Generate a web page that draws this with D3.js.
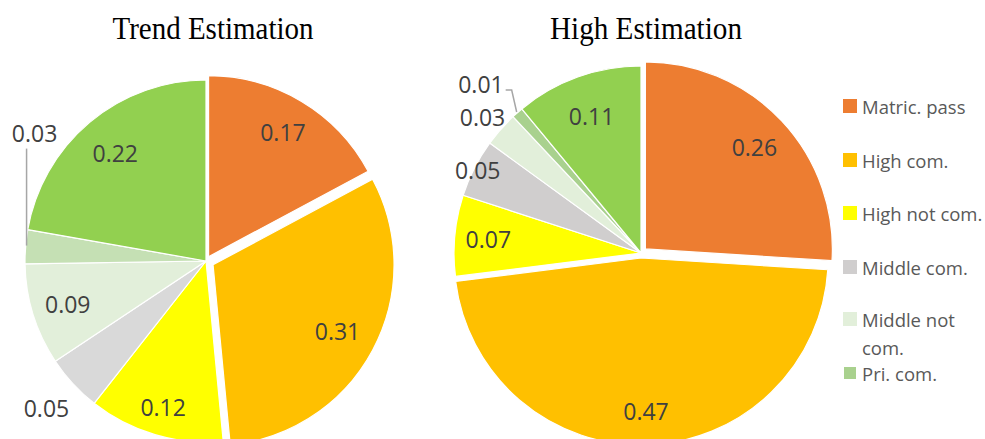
<!DOCTYPE html>
<html>
<head>
<meta charset="utf-8">
<script src="https://cdn.jsdelivr.net/npm/d3@7"></script>
<style>
  html, body { margin: 0; padding: 0; background: #fff; }
  svg { display: block; }
</style>
</head>
<body>
<svg id="chart" width="985" height="439"></svg>
<script>
// Education attainment shares, two estimation scenarios
const categories = ["Matric. pass", "High com.", "High not com.", "Middle com.", "Middle not com.", "Pri. com.", "Other"];
const trendValues = [0.17, 0.31, 0.12, 0.05, 0.09, 0.03, 0.22];
const highValues  = [0.26, 0.47, 0.07, 0.05, 0.03, 0.01, 0.11];
const legendLabels = [["Matric. pass"], ["High com."], ["High not com."], ["Middle com."], ["Middle not", "com."], ["Pri. com."]];
const chartTitles = ["Trend Estimation", "High Estimation"];

const trendColors = ["#ED7D31", "#FFC000", "#FFFF00", "#D9D9D9", "#E2EFDA", "#C5E0B4", "#92D050"];
const highColors  = ["#ED7D31", "#FFC000", "#FFFF00", "#D0CECE", "#E2EFDA", "#A9D18E", "#92D050"];
const legendColors = ["#ED7D31", "#FFC000", "#FFFF00", "#D0CECE", "#E2EFDA", "#A9D18E"];

const svg = d3.select("#chart");

// Per-pie layout: centre, radius, slice offsets and label placement
const pies = [
  {
    title: chartTitles[0], titleX: 213, titleLen: 201,
    values: trendValues, colors: trendColors,
    cx: 206, cy: 261, r: 181,
    explode: [5, 8, 0, 0, 0, 0, 0],
    labels: [
      { k: 0.80 }, { k: 0.78 }, { k: 0.84 }, { k: 1.20 }, { k: 0.80 },
      { leader: "up", dx: 10, dy: -114 }, { k: 0.78 }
    ]
  },
  {
    title: chartTitles[1], titleX: 646, titleLen: 192,
    values: highValues, colors: highColors,
    cx: 641, cy: 253, r: 187,
    explode: [6, 5, 0, 0, 0, 0, 0],
    labels: [
      { k: 0.80 }, { k: 0.82 }, { k: 0.82 }, { k: 0.98 }, { k: 1.13, ny: 4 },
      { leader: "left", dx: -13, dy: -28 }, { k: 0.78 }
    ]
  }
];

const pieGen = d3.pie().sort(null).value(d => d).startAngle(0).endAngle(2 * Math.PI);
const labelColor = "#404040";
const labelFont = "'Open Sans', sans-serif";

pies.forEach(p => {
  // title
  svg.append("text")
    .attr("x", p.titleX).attr("y", 39)
    .attr("text-anchor", "middle")
    .attr("font-family", "'Liberation Serif', 'Times New Roman', serif")
    .attr("font-size", 31)
    .attr("textLength", p.titleLen)
    .attr("lengthAdjust", "spacingAndGlyphs")
    .attr("fill", "#000")
    .text(p.title);

  const arcs = pieGen(p.values);
  const arc = d3.arc().innerRadius(0).outerRadius(p.r);
  const g = svg.append("g").attr("transform", `translate(${p.cx},${p.cy})`);

  const offset = (d, i) => {
    const mid = (d.startAngle + d.endAngle) / 2;
    const e = p.explode[i];
    return [e * Math.sin(mid), -e * Math.cos(mid)];
  };

  g.selectAll("path.slice").data(arcs).enter().append("path")
    .attr("class", "slice")
    .attr("d", arc)
    .attr("transform", (d, i) => { const o = offset(d, i); return `translate(${o[0]},${o[1]})`; })
    .attr("fill", (d, i) => p.colors[i])
    .attr("stroke", "#fff")
    .attr("stroke-width", 1.2)
    .attr("stroke-linejoin", "round");

  const addLabel = (x, y, anchor, txt) =>
    g.append("text").attr("x", x).attr("y", y)
      .attr("text-anchor", anchor).attr("dominant-baseline", "central")
      .attr("font-family", labelFont).attr("font-size", 23)
      .attr("fill", labelColor).text(txt);

  arcs.forEach((d, i) => {
    const L = p.labels[i];
    const o = offset(d, i);
    const mid = (d.startAngle + d.endAngle) / 2;
    const txt = d3.format(".2f")(p.values[i]);
    if (L.leader) {
      const ax = (p.r + 1) * Math.sin(mid) + o[0];
      const ay = -(p.r + 1) * Math.cos(mid) + o[1];
      const lx = ax + L.dx, ly = ay + L.dy;
      let pts;
      if (L.leader === "up") {
        pts = [[ax + 2, ay - 1], [ax + 2, ly + 16]];
        addLabel(lx, ly, "middle", txt);
      } else {
        pts = [[ax, ay], [ax - 5, ly + 6], [lx + 2, ly + 6]];
        addLabel(lx, ly, "end", txt);
      }
      g.append("path").attr("d", d3.line()(pts))
        .attr("fill", "none").attr("stroke", "#A6A6A6").attr("stroke-width", 1.5);
    } else {
      const lr = p.r * L.k;
      const c = d3.arc().innerRadius(lr).outerRadius(lr).centroid(d);
      addLabel(c[0] + o[0], c[1] + o[1] + (L.ny || 0), "middle", txt);
    }
  });
});

// legend
const legendRowY = [106, 160, 213, 267, 319, 373];
const lg = svg.append("g");
legendLabels.forEach((lines, i) => {
  const y = legendRowY[i];
  const s = i === 5 ? 12 : 14;
  lg.append("rect")
    .attr("x", 850 - s / 2).attr("y", y - s / 2)
    .attr("width", s).attr("height", s)
    .attr("fill", legendColors[i]);
  const t = lg.append("text")
    .attr("x", 862).attr("y", y)
    .attr("dominant-baseline", "central")
    .attr("font-family", labelFont)
    .attr("font-size", 18.5)
    .attr("fill", "#595959");
  lines.forEach((ln, j) => {
    t.append("tspan").attr("x", 862).attr("dy", j === 0 ? 0 : 28).text(ln);
  });
});
</script>
</body>
</html>
